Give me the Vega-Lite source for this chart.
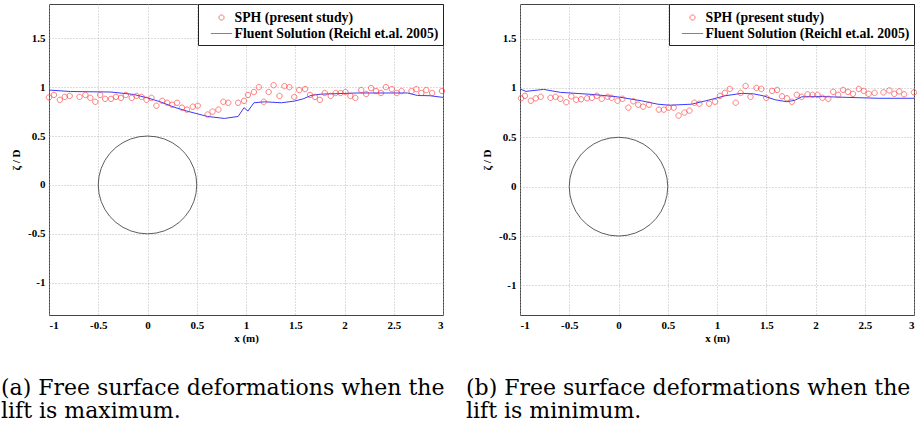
{
  "$schema": "https://vega.github.io/schema/vega-lite/v6.json",
  "padding": {"left": 0, "top": 3, "right": 0, "bottom": 0},
  "background": "white",
  "bounds": "flush",
  "spacing": 77,
  "datasets": {
    "circle": [
      {"i":0,"x":0.5,"y":0},{"i":1,"x":0.4924,"y":0.0868},{"i":2,"x":0.4698,"y":0.171},{"i":3,"x":0.433,"y":0.25},
      {"i":4,"x":0.383,"y":0.3214},{"i":5,"x":0.3214,"y":0.383},{"i":6,"x":0.25,"y":0.433},{"i":7,"x":0.171,"y":0.4698},
      {"i":8,"x":0.0868,"y":0.4924},{"i":9,"x":0,"y":0.5},{"i":10,"x":-0.0868,"y":0.4924},{"i":11,"x":-0.171,"y":0.4698},
      {"i":12,"x":-0.25,"y":0.433},{"i":13,"x":-0.3214,"y":0.383},{"i":14,"x":-0.383,"y":0.3214},{"i":15,"x":-0.433,"y":0.25},
      {"i":16,"x":-0.4698,"y":0.171},{"i":17,"x":-0.4924,"y":0.0868},{"i":18,"x":-0.5,"y":0},{"i":19,"x":-0.4924,"y":-0.0868},
      {"i":20,"x":-0.4698,"y":-0.171},{"i":21,"x":-0.433,"y":-0.25},{"i":22,"x":-0.383,"y":-0.3214},{"i":23,"x":-0.3214,"y":-0.383},
      {"i":24,"x":-0.25,"y":-0.433},{"i":25,"x":-0.171,"y":-0.4698},{"i":26,"x":-0.0868,"y":-0.4924},{"i":27,"x":0,"y":-0.5},
      {"i":28,"x":0.0868,"y":-0.4924},{"i":29,"x":0.171,"y":-0.4698},{"i":30,"x":0.25,"y":-0.433},{"i":31,"x":0.3214,"y":-0.383},
      {"i":32,"x":0.383,"y":-0.3214},{"i":33,"x":0.433,"y":-0.25},{"i":34,"x":0.4698,"y":-0.171},{"i":35,"x":0.4924,"y":-0.0868},
      {"i":36,"x":0.5,"y":0}
    ],
    "a_sph": [
      {"x":-1.0,"y":0.895},{"x":-0.95,"y":0.92},{"x":-0.89,"y":0.87},{"x":-0.84,"y":0.9},{"x":-0.79,"y":0.91},
      {"x":-0.69,"y":0.9},{"x":-0.63,"y":0.92},{"x":-0.58,"y":0.89},{"x":-0.53,"y":0.85},{"x":-0.48,"y":0.92},
      {"x":-0.43,"y":0.88},{"x":-0.37,"y":0.88},{"x":-0.32,"y":0.9},{"x":-0.27,"y":0.89},{"x":-0.22,"y":0.92},
      {"x":-0.16,"y":0.89},{"x":-0.11,"y":0.91},{"x":-0.06,"y":0.9},{"x":-0.01,"y":0.87},{"x":0.04,"y":0.89},
      {"x":0.09,"y":0.81},{"x":0.15,"y":0.86},{"x":0.2,"y":0.84},{"x":0.25,"y":0.82},{"x":0.3,"y":0.84},
      {"x":0.35,"y":0.79},{"x":0.4,"y":0.77},{"x":0.46,"y":0.8},{"x":0.51,"y":0.81},{"x":0.61,"y":0.72},
      {"x":0.66,"y":0.75},{"x":0.72,"y":0.77},{"x":0.77,"y":0.85},{"x":0.82,"y":0.84},{"x":0.92,"y":0.84},
      {"x":0.98,"y":0.86},{"x":1.02,"y":0.92},{"x":1.08,"y":0.95},{"x":1.13,"y":1.0},{"x":1.18,"y":0.85},
      {"x":1.23,"y":0.95},{"x":1.28,"y":1.02},{"x":1.34,"y":0.91},{"x":1.39,"y":1.01},{"x":1.44,"y":1.0},
      {"x":1.49,"y":0.9},{"x":1.54,"y":0.97},{"x":1.6,"y":0.98},{"x":1.65,"y":0.92},{"x":1.7,"y":0.9},
      {"x":1.75,"y":0.87},{"x":1.8,"y":0.94},{"x":1.86,"y":0.91},{"x":1.91,"y":0.94},{"x":1.96,"y":0.94},
      {"x":2.01,"y":0.95},{"x":2.06,"y":0.91},{"x":2.11,"y":0.89},{"x":2.17,"y":0.97},{"x":2.22,"y":0.93},
      {"x":2.27,"y":0.99},{"x":2.32,"y":0.96},{"x":2.37,"y":0.94},{"x":2.42,"y":1.0},{"x":2.48,"y":0.98},
      {"x":2.53,"y":0.94},{"x":2.58,"y":0.96},{"x":2.68,"y":0.96},{"x":2.73,"y":0.98},{"x":2.78,"y":0.94},
      {"x":2.83,"y":0.97},{"x":2.89,"y":0.94},{"x":2.99,"y":0.96}
    ],
    "a_fluent": [
      {"x":-1.0,"y":0.97},{"x":-0.78,"y":0.955},{"x":-0.37,"y":0.95},{"x":-0.14,"y":0.925},{"x":0.0,"y":0.89},
      {"x":0.13,"y":0.85},{"x":0.27,"y":0.795},{"x":0.4,"y":0.755},{"x":0.61,"y":0.7},{"x":0.78,"y":0.68},
      {"x":0.92,"y":0.7},{"x":0.98,"y":0.79},{"x":1.02,"y":0.755},{"x":1.08,"y":0.84},{"x":1.19,"y":0.85},
      {"x":1.36,"y":0.84},{"x":1.49,"y":0.857},{"x":1.58,"y":0.88},{"x":1.66,"y":0.915},{"x":1.76,"y":0.928},
      {"x":2.13,"y":0.94},{"x":2.5,"y":0.94},{"x":2.64,"y":0.94},{"x":2.74,"y":0.915},{"x":2.87,"y":0.912},
      {"x":3.0,"y":0.895}
    ],
    "b_sph": [
      {"x":-0.99,"y":0.895},{"x":-0.95,"y":0.92},{"x":-0.89,"y":0.87},{"x":-0.84,"y":0.895},{"x":-0.79,"y":0.91},
      {"x":-0.69,"y":0.9},{"x":-0.64,"y":0.91},{"x":-0.59,"y":0.89},{"x":-0.53,"y":0.855},{"x":-0.48,"y":0.915},
      {"x":-0.43,"y":0.88},{"x":-0.38,"y":0.885},{"x":-0.32,"y":0.895},{"x":-0.27,"y":0.9},{"x":-0.22,"y":0.92},
      {"x":-0.17,"y":0.89},{"x":-0.11,"y":0.91},{"x":-0.07,"y":0.9},{"x":-0.01,"y":0.87},{"x":0.04,"y":0.89},
      {"x":0.1,"y":0.8},{"x":0.15,"y":0.865},{"x":0.2,"y":0.83},{"x":0.25,"y":0.81},{"x":0.31,"y":0.83},
      {"x":0.41,"y":0.78},{"x":0.46,"y":0.78},{"x":0.51,"y":0.8},{"x":0.56,"y":0.8},{"x":0.61,"y":0.72},
      {"x":0.67,"y":0.75},{"x":0.72,"y":0.77},{"x":0.77,"y":0.85},{"x":0.82,"y":0.84},{"x":0.92,"y":0.84},
      {"x":0.98,"y":0.86},{"x":1.03,"y":0.92},{"x":1.08,"y":0.95},{"x":1.13,"y":0.99},{"x":1.19,"y":0.85},
      {"x":1.24,"y":0.95},{"x":1.29,"y":1.02},{"x":1.34,"y":0.91},{"x":1.4,"y":1.0},{"x":1.45,"y":0.99},
      {"x":1.5,"y":0.9},{"x":1.56,"y":0.97},{"x":1.61,"y":0.98},{"x":1.66,"y":0.915},{"x":1.71,"y":0.895},
      {"x":1.76,"y":0.86},{"x":1.81,"y":0.93},{"x":1.86,"y":0.91},{"x":1.92,"y":0.935},{"x":1.97,"y":0.93},
      {"x":2.02,"y":0.93},{"x":2.07,"y":0.9},{"x":2.13,"y":0.89},{"x":2.18,"y":0.96},{"x":2.23,"y":0.93},
      {"x":2.28,"y":0.98},{"x":2.33,"y":0.96},{"x":2.38,"y":0.94},{"x":2.44,"y":0.99},{"x":2.49,"y":0.97},
      {"x":2.54,"y":0.94},{"x":2.6,"y":0.95},{"x":2.69,"y":0.955},{"x":2.75,"y":0.975},{"x":2.8,"y":0.94},
      {"x":2.85,"y":0.965},{"x":2.9,"y":0.935},{"x":3.0,"y":0.955}
    ],
    "b_fluent": [
      {"x":-1.0,"y":0.99},{"x":-0.94,"y":0.965},{"x":-0.76,"y":0.985},{"x":-0.59,"y":0.955},{"x":-0.28,"y":0.935},
      {"x":-0.01,"y":0.91},{"x":0.23,"y":0.87},{"x":0.4,"y":0.835},{"x":0.52,"y":0.825},{"x":0.74,"y":0.835},
      {"x":0.91,"y":0.875},{"x":1.08,"y":0.92},{"x":1.25,"y":0.945},{"x":1.37,"y":0.94},{"x":1.47,"y":0.92},
      {"x":1.59,"y":0.88},{"x":1.71,"y":0.86},{"x":1.79,"y":0.875},{"x":1.86,"y":0.91},{"x":2.07,"y":0.912},
      {"x":2.3,"y":0.905},{"x":2.64,"y":0.895},{"x":3.0,"y":0.895}
    ]
  },
  "config": {
    "font": "Liberation Serif, Times New Roman, serif",
    "view": {"stroke": "#444444", "strokeWidth": 1},
    "axis": {
      "labelFont": "Liberation Serif, Times New Roman, serif", "labelFontWeight": "bold", "labelFontSize": 11, "labelColor": "black",
      "titleFont": "Liberation Serif, Times New Roman, serif", "titleFontWeight": "bold", "titleFontSize": 11, "titleColor": "black",
      "gridColor": "#a8a8a8", "gridDash": [1, 2], "gridWidth": 0.8, "ticks": false, "domain": false, "labelPadding": 4
    },
    "title": {"font": "DejaVu Serif", "fontSize": 22, "fontWeight": "normal", "color": "black", "orient": "bottom", "anchor": "start", "frame": "group", "lineHeight": 23, "offset": 35},
    "legend": {
      "orient": "top-right", "offset": 0, "fillColor": "white", "strokeColor": "#222222", "padding": 4.5,
      "labelFont": "Liberation Serif, Times New Roman, serif", "labelFontWeight": "bold", "labelFontSize": 13.8, "labelColor": "black",
      "labelLimit": 0,
      "symbolSize": 289, "symbolStrokeWidth": 1, "symbolOffset": 10, "labelOffset": 4, "rowPadding": 0, "title": null
    }
  },
  "resolve": {"scale": {"color": "independent", "shape": "independent"}, "legend": {"color": "independent", "shape": "independent"}},
  "hconcat": [
    {
      "width": 394, "height": 311,
      "title": {"text": ["(a) Free surface deformations when the", "lift is maximum."], "dx": -48},
      "layer": [
        {
          "data": {"name": "circle"},
          "mark": {"type": "line", "color": "#333333", "strokeWidth": 0.8},
          "encoding": {
            "x": {"field": "x", "type": "quantitative", "scale": {"domain": [-1, 3], "nice": false, "zero": false},
                  "axis": {"values": [-1, -0.5, 0, 0.5, 1, 1.5, 2, 2.5, 3], "labelExpr": "'' + datum.value", "title": "x (m)", "titlePadding": 2}},
            "y": {"field": "y", "type": "quantitative", "scale": {"domain": [-1.33, 1.85], "nice": false, "zero": false},
                  "axis": {"values": [-1, -0.5, 0, 0.5, 1, 1.5], "labelExpr": "'' + datum.value", "title": "ζ / D", "titlePadding": 6}},
            "order": {"field": "i", "type": "quantitative"}
          }
        },
        {
          "data": {"name": "a_fluent"},
          "mark": {"type": "line", "strokeWidth": 1},
          "encoding": {
            "x": {"field": "x", "type": "quantitative"},
            "y": {"field": "y", "type": "quantitative"},
            "color": {"datum": "Fluent Solution (Reichl et.al. 2005)", "scale": {"domain": ["SPH (present study)", "Fluent Solution (Reichl et.al. 2005)"], "range": ["#ff3030", "#3a3aff"]}}
          }
        },
        {
          "data": {"name": "a_sph"},
          "mark": {"type": "point", "filled": false, "size": 324, "strokeWidth": 0.9},
          "encoding": {
            "x": {"field": "x", "type": "quantitative"},
            "y": {"field": "y", "type": "quantitative"},
            "color": {"datum": "SPH (present study)", "scale": {"domain": ["SPH (present study)", "Fluent Solution (Reichl et.al. 2005)"], "range": ["#ff3030", "#3a3aff"]}},
            "shape": {"datum": "SPH (present study)", "scale": {"domain": ["SPH (present study)", "Fluent Solution (Reichl et.al. 2005)"], "range": ["M0.3,0A0.3,0.3,0,1,1,-0.3,0A0.3,0.3,0,1,1,0.3,0Z", "M-1.25,0L1.25,0"]}}
          }
        }
      ]
    },
    {
      "width": 394, "height": 311,
      "title": {"text": ["(b) Free surface deformations when the", "lift is minimum."], "dx": -54},
      "layer": [
        {
          "data": {"name": "circle"},
          "mark": {"type": "line", "color": "#333333", "strokeWidth": 0.8},
          "encoding": {
            "x": {"field": "x", "type": "quantitative", "scale": {"domain": [-1, 3], "nice": false, "zero": false},
                  "axis": {"values": [-1, -0.5, 0, 0.5, 1, 1.5, 2, 2.5, 3], "labelExpr": "'' + datum.value", "title": "x (m)", "titlePadding": 2}},
            "y": {"field": "y", "type": "quantitative", "scale": {"domain": [-1.3, 1.85], "nice": false, "zero": false},
                  "axis": {"values": [-1, -0.5, 0, 0.5, 1, 1.5], "labelExpr": "'' + datum.value", "title": "ζ / D", "titlePadding": 6}},
            "order": {"field": "i", "type": "quantitative"}
          }
        },
        {
          "data": {"name": "b_fluent"},
          "mark": {"type": "line", "strokeWidth": 1},
          "encoding": {
            "x": {"field": "x", "type": "quantitative"},
            "y": {"field": "y", "type": "quantitative"},
            "color": {"datum": "Fluent Solution (Reichl et.al. 2005)", "scale": {"domain": ["SPH (present study)", "Fluent Solution (Reichl et.al. 2005)"], "range": ["#ff3030", "#3a3aff"]}}
          }
        },
        {
          "data": {"name": "b_sph"},
          "mark": {"type": "point", "filled": false, "size": 324, "strokeWidth": 0.9},
          "encoding": {
            "x": {"field": "x", "type": "quantitative"},
            "y": {"field": "y", "type": "quantitative"},
            "color": {"datum": "SPH (present study)", "scale": {"domain": ["SPH (present study)", "Fluent Solution (Reichl et.al. 2005)"], "range": ["#ff3030", "#3a3aff"]}},
            "shape": {"datum": "SPH (present study)", "scale": {"domain": ["SPH (present study)", "Fluent Solution (Reichl et.al. 2005)"], "range": ["M0.3,0A0.3,0.3,0,1,1,-0.3,0A0.3,0.3,0,1,1,0.3,0Z", "M-1.25,0L1.25,0"]}}
          }
        }
      ]
    }
  ]
}
